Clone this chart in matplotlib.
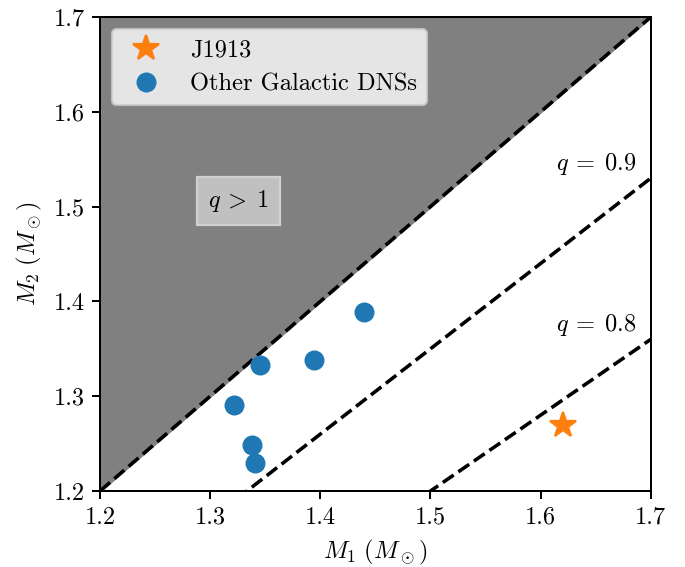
import numpy as np
import matplotlib
matplotlib.use("Agg")
import matplotlib.pyplot as plt

plt.rcParams['font.family'] = 'cmr10'
plt.rcParams['mathtext.fontset'] = 'cm'
plt.rcParams['axes.formatter.use_mathtext'] = True
plt.rcParams['font.size'] = 11
plt.rcParams['axes.linewidth'] = 0.9
plt.rcParams['xtick.major.width'] = 0.9
plt.rcParams['ytick.major.width'] = 0.9

# masses of the galactic double neutron stars
dns_m1 = [1.440, 1.3455, 1.338, 1.341, 1.322, 1.3946]
dns_m2 = [1.389, 1.3330, 1.249, 1.230, 1.291, 1.3384]
j1913_m1 = [1.62]
j1913_m2 = [1.27]

q_lines = [1.0, 0.9, 0.8]
xlim = (1.2, 1.7)
ylim = (1.2, 1.7)

fig = plt.figure(figsize=(685 / 160, 567 / 160), dpi=160)
ax = fig.add_axes([0.146, 0.134, 0.804, 0.836])

m = np.array(xlim)
ax.fill_between(m, m, ylim[1], color='grey')
for q in q_lines:
    ax.plot(m, q * m, 'k--', lw=1.6)

ax.plot(j1913_m1, j1913_m2, '*', color='C1', ms=12, label='J1913', ls='none')
ax.plot(dns_m1, dns_m2, 'o', color='C0', ms=8, label='Other Galactic DNSs', ls='none')

ax.text(1.3257, 1.506, r'$q\:>\:1$', ha='center', va='center',
        bbox=dict(facecolor='#c0c0c0', edgecolor='#d0d0d0', boxstyle='square,pad=0.45'))
ax.text(1.687, 1.545, r'$q\:=\:0.9$', ha='right', va='center')
ax.text(1.687, 1.375, r'$q\:=\:0.8$', ha='right', va='center')

ax.set_xlim(*xlim)
ax.set_ylim(*ylim)
ax.set_xticks(np.arange(1.2, 1.71, 0.1))
ax.set_yticks(np.arange(1.2, 1.71, 0.1))
ax.set_xticklabels(['1.2', '1.3', '1.4', '1.5', '1.6', '1.7'])
ax.set_yticklabels(['1.2', '1.3', '1.4', '1.5', '1.6', '1.7'])
ax.set_xlabel(r'$M_1\ (M_\odot)$')
ax.set_ylabel(r'$M_2\ (M_\odot)$')
ax.legend(loc='upper left')

fig.savefig('out.png', dpi=160)
